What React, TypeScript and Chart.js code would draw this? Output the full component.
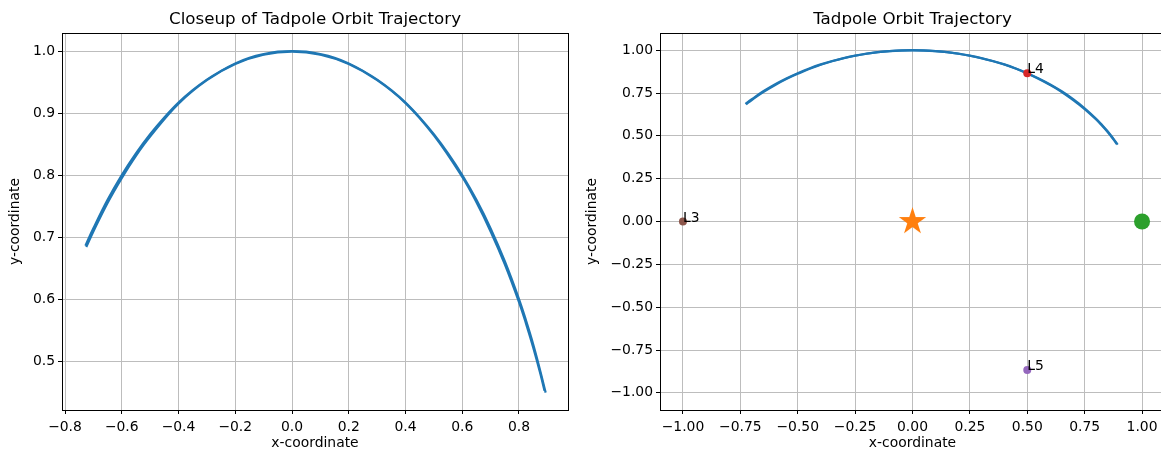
import React, { useEffect, useRef } from "react";
import { Chart, registerables } from "chart.js";

Chart.register(...registerables);

const FONT = "'DejaVu Sans', 'Liberation Sans', sans-serif";
const TICK_SIZE = 13.9;
const TITLE_SIZE = 16.7;

// Trajectory: outward pass
const outX = [-0.728, -0.70, -0.65, -0.60, -0.55, -0.50, -0.45, -0.40, -0.35, -0.30, -0.25, -0.20, -0.15, -0.10, -0.05, 0.00, 0.05, 0.10, 0.15, 0.20, 0.25, 0.30, 0.35, 0.40, 0.45, 0.50, 0.55, 0.60, 0.65, 0.70, 0.75, 0.80, 0.825, 0.85, 0.875, 0.894];
const outY = [0.686, 0.714, 0.760, 0.800, 0.835, 0.866, 0.893, 0.917, 0.937, 0.954, 0.968, 0.980, 0.989, 0.995, 0.999, 1.000, 0.999, 0.995, 0.989, 0.980, 0.968, 0.954, 0.937, 0.917, 0.893, 0.866, 0.835, 0.800, 0.760, 0.714, 0.661, 0.600, 0.565, 0.527, 0.484, 0.449];
// Trajectory: return pass (slightly inside near the ends)
const backX = [-0.725, -0.70, -0.65, -0.60, -0.55, -0.50, -0.40, -0.30, -0.20, -0.10, 0.00, 0.10, 0.20, 0.30, 0.40, 0.50, 0.60, 0.65, 0.70, 0.75, 0.80, 0.825, 0.85, 0.875, 0.890];
const backY = [0.684, 0.709, 0.755, 0.795, 0.831, 0.862, 0.915, 0.953, 0.979, 0.994, 0.999, 0.994, 0.979, 0.953, 0.916, 0.864, 0.797, 0.756, 0.709, 0.656, 0.595, 0.560, 0.522, 0.480, 0.452];

// Lagrange points
const lagNames = ["L3", "L4", "L5"];
const lagX = [-1.0, 0.5, 0.5];
const lagY = [0.0, 0.866, -0.866];
const lagColors = ["#8c564b", "#d62728", "#9467bd"];

// Bodies
const sunX = [0.0];
const sunY = [0.0];
const planetX = [1.0];
const planetY = [0.0];

// Ticks
const leftXTicks = [-0.8, -0.6, -0.4, -0.2, 0.0, 0.2, 0.4, 0.6, 0.8];
const leftXLabels = ["\u22120.8", "\u22120.6", "\u22120.4", "\u22120.2", "0.0", "0.2", "0.4", "0.6", "0.8"];
const leftYTicks = [0.5, 0.6, 0.7, 0.8, 0.9, 1.0];
const leftYLabels = ["0.5", "0.6", "0.7", "0.8", "0.9", "1.0"];
const rightTicks = [-1.0, -0.75, -0.5, -0.25, 0.0, 0.25, 0.5, 0.75, 1.0];
const rightLabels = ["\u22121.00", "\u22120.75", "\u22120.50", "\u22120.25", "0.00", "0.25", "0.50", "0.75", "1.00"];

const leftXRange = [-0.8106, 0.9727];
const leftYRange = [0.421, 1.029];
const rightRange = [-1.1, 1.1];

const BLUE = "#1f77b4";

function pts(xs: number[], ys: number[]) {
  return xs.map((x, i) => ({ x, y: ys[i] }));
}

function makeStar(color: string, outer: number, inner: number) {
  const size = Math.ceil(outer * 2 + 2);
  const c = document.createElement("canvas");
  c.width = size;
  c.height = size;
  const ctx = c.getContext("2d")!;
  ctx.translate(size / 2, size / 2);
  ctx.beginPath();
  for (let i = 0; i < 10; i++) {
    const r = i % 2 === 0 ? outer : inner;
    const a = -Math.PI / 2 + (i * Math.PI) / 5;
    ctx.lineTo(r * Math.cos(a), r * Math.sin(a));
  }
  ctx.closePath();
  ctx.fillStyle = color;
  ctx.fill();
  return c;
}

const framePlugin = {
  id: "frame",
  afterDraw(chart: any) {
    const { ctx, chartArea } = chart;
    const { left, top, right, bottom } = chartArea;
    ctx.save();
    ctx.strokeStyle = "#000";
    ctx.lineWidth = 1;
    ctx.strokeRect(Math.round(left) + 0.5, Math.round(top) + 0.5, Math.round(right) - Math.round(left), Math.round(bottom) - Math.round(top));
    ctx.restore();
  },
};

const labelPlugin = {
  id: "lagLabels",
  afterDatasetsDraw(chart: any) {
    const { ctx, scales } = chart;
    ctx.save();
    ctx.fillStyle = "#000";
    ctx.font = `${TICK_SIZE}px ${FONT}`;
    ctx.textAlign = "left";
    ctx.textBaseline = "alphabetic";
    lagNames.forEach((n, i) => {
      ctx.fillText(n, scales.x.getPixelForValue(lagX[i]), scales.y.getPixelForValue(lagY[i]));
    });
    ctx.restore();
  },
};

function axis(opts: {
  horizontal: boolean;
  range: number[];
  ticks: number[];
  labels: string[];
  size: number;
  title: string;
  titlePad: number;
}) {
  return {
    type: "linear",
    position: opts.horizontal ? "bottom" : "left",
    min: opts.range[0],
    max: opts.range[1],
    afterBuildTicks: (s: any) => {
      s.ticks = opts.ticks.map((v) => ({ value: v }));
    },
    afterFit: (s: any) => {
      if (opts.horizontal) s.height = opts.size;
      else s.width = opts.size;
    },
    ticks: {
      autoSkip: false,
      maxRotation: 0,
      minRotation: 0,
      padding: opts.horizontal ? 5 : 3,
      color: "#000",
      font: { family: FONT, size: TICK_SIZE },
      callback: (_v: any, i: number) => opts.labels[i],
    },
    grid: {
      color: "#bdbdbd",
      lineWidth: 1,
      drawTicks: true,
      tickLength: 4,
      tickColor: "#000",
      tickWidth: 1,
    },
    border: { display: false },
    title: {
      display: true,
      text: opts.title,
      color: "#000",
      font: { family: FONT, size: TICK_SIZE },
      padding: opts.horizontal ? { top: 0, bottom: 0 } : { top: opts.titlePad, bottom: 0 },
    },
  };
}

function titleOpts(text: string) {
  return {
    display: true,
    text,
    fullSize: false,
    color: "#000",
    font: { family: FONT, size: TITLE_SIZE, weight: "normal" as const, lineHeight: 1.2 },
    padding: { top: 10, bottom: 3 },
  };
}

function trajDatasets(order: number) {
  return [
    {
      label: "out",
      data: pts(outX, outY),
      showLine: true,
      tension: 0.4,
      borderColor: BLUE,
      backgroundColor: BLUE,
      borderWidth: 2.2,
      pointRadius: 0,
      order,
    },
    {
      label: "back",
      data: pts(backX, backY),
      showLine: true,
      tension: 0.4,
      borderColor: BLUE,
      backgroundColor: BLUE,
      borderWidth: 2.2,
      pointRadius: 0,
      order,
    },
  ];
}

export default function App() {
  const leftRef = useRef<HTMLCanvasElement>(null);
  const rightRef = useRef<HTMLCanvasElement>(null);

  useEffect(() => {
    const common = {
      responsive: false,
      animation: false,
      events: [],
    };

    const c1 = new Chart(leftRef.current as HTMLCanvasElement, {
      type: "scatter",
      data: { datasets: trajDatasets(1) as any },
      options: {
        ...common,
        layout: { padding: { left: 0, right: 12, top: 0, bottom: 0 } },
        plugins: {
          legend: { display: false },
          tooltip: { enabled: false },
          title: titleOpts("Closeup of Tadpole Orbit Trajectory"),
        },
        scales: {
          x: axis({ horizontal: true, range: leftXRange, ticks: leftXTicks, labels: leftXLabels, size: 42, title: "x-coordinate", titlePad: 0 }),
          y: axis({ horizontal: false, range: leftYRange, ticks: leftYTicks, labels: leftYLabels, size: 62, title: "y-coordinate", titlePad: 7.5 }),
        },
      } as any,
      plugins: [framePlugin],
    });

    const star = makeStar("#ff7f0e", 14.4, 5.5);

    const c2 = new Chart(rightRef.current as HTMLCanvasElement, {
      type: "scatter",
      data: {
        datasets: [
          ...trajDatasets(10),
          {
            label: "sun",
            data: pts(sunX, sunY),
            pointStyle: star,
            pointRadius: 14,
            order: 3,
          },
          {
            label: "planet",
            data: pts(planetX, planetY),
            backgroundColor: "#2ca02c",
            borderColor: "#2ca02c",
            borderWidth: 0,
            pointRadius: 8,
            order: 3,
          },
          {
            label: "lagrange",
            data: pts(lagX, lagY),
            backgroundColor: lagColors,
            borderColor: lagColors,
            borderWidth: 0,
            pointRadius: 4,
            order: 1,
          },
        ] as any,
      },
      options: {
        ...common,
        layout: { padding: { left: 0, right: 14, top: 0, bottom: 0 } },
        plugins: {
          legend: { display: false },
          tooltip: { enabled: false },
          title: titleOpts("Tadpole Orbit Trajectory"),
        },
        scales: {
          x: axis({ horizontal: true, range: rightRange, ticks: rightTicks, labels: rightLabels, size: 42, title: "x-coordinate", titlePad: 0 }),
          y: axis({ horizontal: false, range: rightRange, ticks: rightTicks, labels: rightLabels, size: 80, title: "y-coordinate", titlePad: 4.5 }),
        },
      } as any,
      plugins: [framePlugin, labelPlugin],
    });

    return () => {
      c1.destroy();
      c2.destroy();
    };
  }, []);

  return (
    <div
      style={{
        position: "fixed",
        left: 0,
        top: 0,
        width: 1161,
        height: 452,
        overflow: "hidden",
        background: "#fff",
      }}
    >
      <canvas
        ref={leftRef}
        width={580}
        height={452}
        style={{ position: "absolute", left: 0, top: 0, width: 580, height: 452 }}
      />
      <canvas
        ref={rightRef}
        width={600}
        height={452}
        style={{ position: "absolute", left: 580, top: 0, width: 600, height: 452 }}
      />
    </div>
  );
}
